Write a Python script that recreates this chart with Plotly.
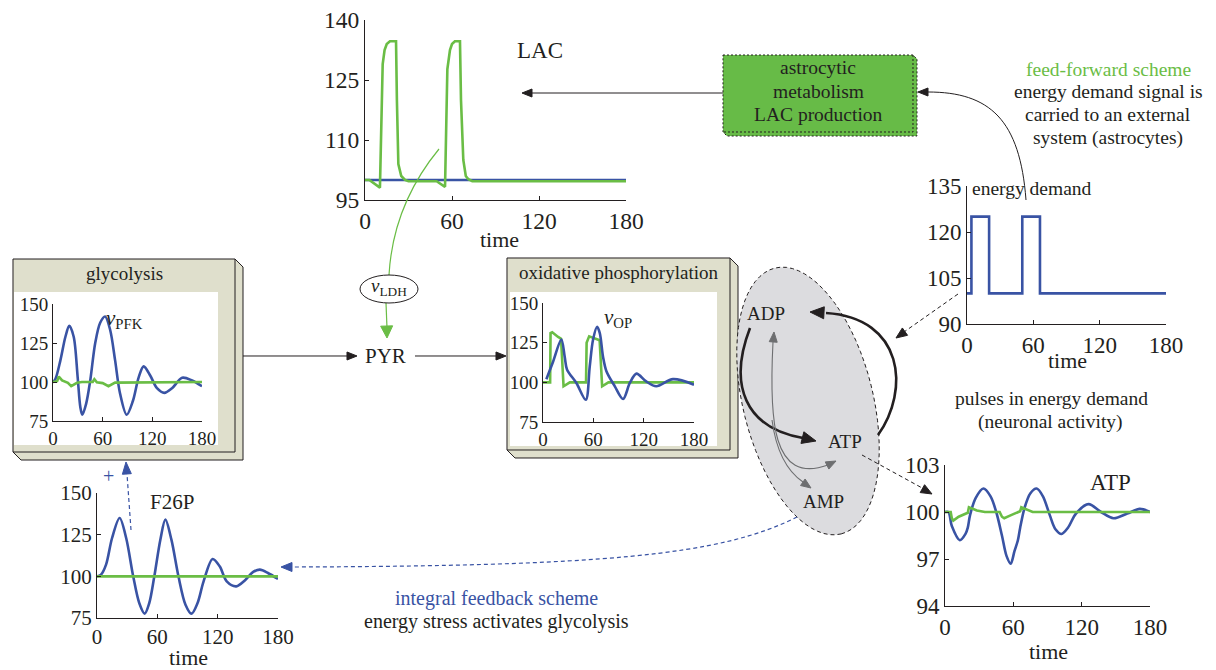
import math
import plotly.graph_objects as go

W, H = 1216, 670
FONT = "Liberation Serif"
INK = "#231f20"
BLUE = "#3953a4"
GREEN = "#6abd45"
DASH = "4px,3px"

# ---------------- data ----------------
demand_t = [0, 4, 4, 20, 20, 50, 50, 66, 66, 180]
demand_v = [100, 100, 125, 125, 100, 100, 125, 125, 100, 100]

lac_blue_t = [0, 180]
lac_blue_v = [100, 100]
lac_green_t = [0, 3, 10.3, 11.5, 12.2, 13.5, 15, 17.2, 21.4, 22, 23, 25, 27.6, 30, 49.4, 55.2, 56, 56.8, 58.6, 60, 62, 65.5, 66.2, 67.8, 69.5, 71.3, 74, 180]
lac_green_v = [100, 100, 98.1, 120, 129, 132.5, 134, 134.7, 134.7, 120, 104, 101, 100, 99.7, 99.7, 98.3, 115, 127.7, 132.5, 134, 134.7, 134.7, 120, 105, 101, 100.2, 99.7, 99.7]

pfk_t = [0, 3, 9, 15, 19.7, 25, 29.8, 33, 35.4, 40, 45, 51, 57, 63, 69, 75, 81, 89, 96.6, 103.5, 109.5, 117.6, 125.6, 134.5, 143.8, 156, 168, 180]
pfk_v = [100, 102, 114, 129, 136, 129, 103, 84, 79, 86, 101, 125, 138, 142, 133.5, 114, 92.6, 79, 88, 103, 110, 104, 96, 93, 96, 102.7, 101, 97.3]
pfk_green_t = [0, 5, 7, 11, 18, 22, 29, 35, 48, 50, 53, 60, 67, 75, 180]
pfk_green_v = [100, 100.5, 103.5, 101, 99.5, 97.3, 99.5, 100, 100, 101.8, 99.8, 99.3, 97.3, 99.6, 100]

op_t = [4, 12, 21.9, 25.9, 28.7, 39.8, 51, 55.7, 59.7, 64.5, 67.7, 71.6, 75.6, 85.6, 95.5, 103.5, 111.4, 123, 135, 155, 180]
op_v = [102, 113, 127, 116, 108, 99.6, 89, 110, 127, 135, 131, 116, 107, 97.5, 89.5, 99.6, 105.5, 100.6, 97.5, 102, 98.5]
op_green_t = [0, 8.5, 9, 11, 18, 21.5, 24.5, 27, 32, 51.3, 52, 55, 64.5, 67.5, 70.5, 73, 78, 180]
op_green_v = [100, 100, 131, 131.5, 128.6, 127.5, 97.5, 98.5, 100, 100, 125, 129, 127.3, 126.5, 97.5, 98.5, 100, 100]

f26p_t = [0, 4, 9, 15, 22.5, 29, 36, 42, 47.4, 52, 57, 63, 68, 74, 81, 88, 94, 100, 106, 115, 122, 129, 138.5, 147, 155, 162, 170, 180]
f26p_v = [100, 101, 107, 123, 135, 123, 100, 84, 77.6, 84, 100, 122, 134, 122, 100, 83, 77.6, 84, 97, 110.4, 106, 97, 94, 97.5, 102.5, 104, 102, 98.4]
f26p_green_t = [0, 180]
f26p_green_v = [100, 100]

atp_t = [0, 3, 6, 13, 18, 20, 22, 27, 33.7, 40, 45, 50, 54, 57.7, 61, 64, 66, 70, 75, 80.5, 86, 92, 97, 102.4, 108, 115, 126, 137, 148, 160, 171, 180]
atp_v = [100, 100, 99.1, 98.2, 98.6, 99, 99.8, 100.9, 101.5, 101, 100, 98.5, 97.2, 96.7, 97.5, 98.2, 99, 100.3, 101.2, 101.5, 101, 99.8, 98.9, 98.6, 99, 99.9, 100.5, 100, 99.6, 99.9, 100.2, 100]
atp_green_t = [0, 5, 6, 7.3, 12, 18, 20, 21, 23, 28, 35, 48, 50, 52, 58, 64, 66, 67, 70, 77, 180]
atp_green_v = [100, 100, 99.6, 99.45, 99.7, 99.9, 99.95, 100.3, 100.25, 100.1, 100, 100, 99.7, 99.6, 99.8, 100, 100.05, 100.3, 100.2, 100, 100]

time_ticks = [0, 60, 120, 180]
lac_ticks = [95, 110, 125, 140]
demand_ticks = [90, 105, 120, 135]
rate_ticks = [75, 100, 125, 150]
atp_ticks = [94, 97, 100, 103]

# ---------------- helpers ----------------
def X(x):
    return x / W

def Y(y):
    return 1 - y / H

def pt(x, y):
    return f"{X(x):.5f},{Y(y):.5f}"

def dom(x0, x1, y0, y1):
    return [X(x0), X(x1)], [Y(y1), Y(y0)]

fig = go.Figure()
shapes = []
annots = []

def add_line(t, v, color, ax, spline=False):
    fig.add_trace(go.Scatter(
        x=t, y=v, mode="lines", xaxis=ax[0], yaxis=ax[1],
        line=dict(color=color, width=2.6, shape="spline" if spline else "linear", smoothing=0.9),
        hoverinfo="skip", showlegend=False))

def axes(n, box, yr, yt, fs):
    xd, yd = dom(*box)
    xs = "xaxis" if n == 1 else f"xaxis{n}"
    ys = "yaxis" if n == 1 else f"yaxis{n}"
    common = dict(showline=True, linecolor=INK, linewidth=1, ticks="inside", ticklen=4,
                  tickcolor=INK, showgrid=False, zeroline=False, automargin=False,
                  tickfont=dict(family=FONT, size=fs, color=INK), fixedrange=True)
    fig.layout[xs] = dict(domain=xd, range=[0, 180], tickvals=time_ticks,
                          anchor=f"y{'' if n == 1 else n}", **common)
    fig.layout[ys] = dict(domain=yd, range=yr, tickvals=yt,
                          anchor=f"x{'' if n == 1 else n}", **common)
    return (f"x{'' if n == 1 else n}", f"y{'' if n == 1 else n}")

def text(x, y, s, size=19.5, color=INK, anchor="center"):
    annots.append(dict(x=X(x), y=Y(y), xref="paper", yref="paper", text=s, showarrow=False,
                       xanchor=anchor, yanchor="middle",
                       font=dict(family=FONT, size=size, color=color)))

def path(d, color=INK, width=1, dash="solid", fill=None, layer="above"):
    s = dict(type="path", xref="paper", yref="paper", path=d, layer=layer,
             line=dict(color=color, width=width, dash=dash))
    s["fillcolor"] = fill if fill else "rgba(0,0,0,0)"
    shapes.append(s)

def head(tip, frm, color=INK, length=11, width=9):
    dx, dy = tip[0] - frm[0], tip[1] - frm[1]
    n = math.hypot(dx, dy)
    ux, uy = dx / n, dy / n
    bx, by = tip[0] - ux * length, tip[1] - uy * length
    px_, py_ = -uy * width / 2, ux * width / 2
    d = f"M{pt(*tip)} L{pt(bx + px_, by + py_)} L{pt(bx - px_, by - py_)} Z"
    path(d, color=color, width=1, fill=color)

def box3d(L, T, R, B, d, fill, dash="solid", inner=None):
    d_outer = (f"M{pt(L, T)} L{pt(R, T)} L{pt(R + d, T + d)} L{pt(R + d, B + d)} "
               f"L{pt(L + d, B + d)} L{pt(L, B)} Z")
    path(d_outer, color=INK, width=1, dash=dash, fill=fill, layer="below")
    path(f"M{pt(R, T)} L{pt(R, B)} L{pt(L, B)}", color=INK, width=1, dash=dash, layer="below")
    if inner:
        x0, y0, x1, y1 = inner
        shapes.append(dict(type="rect", xref="paper", yref="paper", x0=X(x0), x1=X(x1),
                           y0=Y(y1), y1=Y(y0), fillcolor="white", line=dict(width=0),
                           layer="below"))

# ---------------- background boxes ----------------
box3d(723, 55, 913, 132, 4, "#67bb47", dash="2px,2px")
box3d(13, 259, 235, 452, 8, "#dfdfcc", inner=(14, 292, 218, 445))
box3d(507, 258, 730, 450, 8, "#dfdfcc", inner=(510, 292, 717, 446))

# gray ellipse
cx, cy, a, b, phi = 808, 401, 137, 65, math.radians(14)
ux, uy = math.sin(phi), math.cos(phi)
vx, vy = math.cos(phi), -math.sin(phi)
pts = []
for k in range(73):
    t = 2 * math.pi * k / 72
    pts.append((cx + a * math.cos(t) * ux + b * math.sin(t) * vx,
                cy + a * math.cos(t) * uy + b * math.sin(t) * vy))
d = "M" + " L".join(pt(*p) for p in pts) + " Z"
path(d, color=INK, width=1, dash=DASH, fill="#dcdcdf", layer="below")

# ---------------- subplots ----------------
ax_lac = axes(1, (365, 626, 20, 200), [95, 140], lac_ticks, 23.5)
add_line(lac_blue_t, lac_blue_v, BLUE, ax_lac)
add_line(lac_green_t, lac_green_v, GREEN, ax_lac)

ax_dem = axes(2, (967, 1166, 186, 324), [90, 135], demand_ticks, 23)
add_line(demand_t, demand_v, BLUE, ax_dem)

ax_gly = axes(3, (53, 202, 304, 421), [75, 150], rate_ticks, 19)
add_line(pfk_t, pfk_v, BLUE, ax_gly, spline=True)
add_line(pfk_green_t, pfk_green_v, GREEN, ax_gly)

ax_op = axes(4, (543, 694, 303, 422), [75, 150], rate_ticks, 19)
add_line(op_green_t, op_green_v, GREEN, ax_op)
add_line(op_t, op_v, BLUE, ax_op, spline=True)

ax_f = axes(5, (97, 278, 493, 618), [75, 150], rate_ticks, 21)
add_line(f26p_t, f26p_v, BLUE, ax_f, spline=True)
add_line(f26p_green_t, f26p_green_v, GREEN, ax_f)

ax_atp = axes(6, (945, 1150, 465, 606), [94, 103], atp_ticks, 23)
add_line(atp_t, atp_v, BLUE, ax_atp, spline=True)
add_line(atp_green_t, atp_green_v, GREEN, ax_atp)

# ---------------- arrows ----------------
path(f"M{pt(723, 93)} L{pt(530, 93)}")
head((522, 93), (723, 93), length=10, width=8)
path(f"M{pt(1026, 200)} C{pt(1020, 120)} {pt(990, 92)} {pt(928, 92)}")
head((918, 92), (930, 92), length=10, width=8)
path(f"M{pt(243, 356)} L{pt(350, 356)}")
head((357, 356), (243, 356), length=10, width=8)
path(f"M{pt(415, 356)} L{pt(498, 356)}")
head((506, 356), (415, 356), length=10, width=8)
path(f"M{pt(439, 149)} Q{pt(393, 205)} {pt(389, 275)}", color=GREEN, width=1.2)
path(f"M{pt(386, 303)} L{pt(387, 328)}", color=GREEN, width=1.2)
head((387, 338), (386, 303), color=GREEN, length=12, width=12)
shapes.append(dict(type="circle", xref="paper", yref="paper", x0=X(360), x1=X(418),
                   y0=Y(303), y1=Y(275), line=dict(color=INK, width=1), fillcolor="white",
                   layer="above"))
path(f"M{pt(750, 328)} C{pt(728, 385)} {pt(745, 428)} {pt(803, 438)}", width=2.6)
head((816, 441), (800, 437), length=14, width=12)
path(f"M{pt(878, 435)} C{pt(910, 390)} {pt(904, 318)} {pt(826, 313)}", width=2.6)
head((810, 312), (828, 313), length=14, width=12)
GRAY = "#6d6e70"
path(f"M{pt(773, 342)} C{pt(769, 420)} {pt(772, 485)} {pt(828, 465)}", color=GRAY, width=1.1)
head((774, 332), (773, 345), color=GRAY, length=10, width=8)
head((836, 461), (826, 466), color=GRAY, length=10, width=8)
path(f"M{pt(772, 420)} Q{pt(778, 465)} {pt(803, 482)}", color=GRAY, width=1.1)
head((811, 488), (801, 481), color=GRAY, length=10, width=8)
path(f"M{pt(958, 294)} L{pt(904, 332)}", dash=DASH)
head((896, 338), (958, 294), length=11, width=9)
path(f"M{pt(862, 455)} L{pt(924, 489)}", dash=DASH)
head((932, 494), (862, 455), length=11, width=9)
path(f"M{pt(797, 517)} C{pt(720, 556)} {pt(600, 566)} {pt(292, 567)}", color=BLUE, width=1.2, dash=DASH)
head((281, 567), (295, 567), color=BLUE, length=11, width=9)
path(f"M{pt(131, 530)} L{pt(127, 474)}", color=BLUE, width=1.2, dash=DASH)
head((126, 462), (127, 476), color=BLUE, length=12, width=9)

# ---------------- texts ----------------
text(540, 51, "LAC", 23)
text(818, 68, "astrocytic")
text(818, 92, "metabolism")
text(818, 115, "LAC production")
text(1108, 70, "feed-forward scheme", color=GREEN)
text(1108, 92, "energy demand signal is")
text(1108, 115, "carried to an external")
text(1108, 138, "system (astrocytes)")
text(970, 188, "energy demand", 19.5, anchor="left")
text(500, 240, "time", 22)
text(1067, 360, "time", 22)
text(188, 657, "time", 22)
text(1048, 651, "time", 22)
text(125, 273, "glycolysis", 19)
text(618, 272, "oxidative phosphorylation", 19)
text(124, 319, "<i>v</i><sub>PFK</sub>", 21)
text(618, 318, "<i>v</i><sub>OP</sub>", 21)
text(389, 287, "<i>v</i><sub>LDH</sub>", 19)
text(386, 356, "PYR", 21)
text(766, 313, "ADP", 19)
text(845, 441, "ATP", 19)
text(823, 501, "AMP", 19)
text(1051, 398, "pulses in energy demand")
text(1050, 422, "(neuronal activity)")
text(172, 502, "F26P", 21)
text(1110, 482, "ATP", 23)
text(108, 476, "+", 20, BLUE)
text(496, 598, "integral feedback scheme", 20, BLUE)
text(496, 621, "energy stress activates glycolysis", 20)

fig.update_layout(
    template="none",
    width=W, height=H, margin=dict(l=0, r=0, t=0, b=0, autoexpand=False),
    paper_bgcolor="white", plot_bgcolor="rgba(0,0,0,0)",
    shapes=shapes, annotations=annots, showlegend=False,
)
fig.write_html("out.html", config={"displayModeBar": False},
               post_script="document.body.style.margin='0';document.body.style.overflow='hidden';")
